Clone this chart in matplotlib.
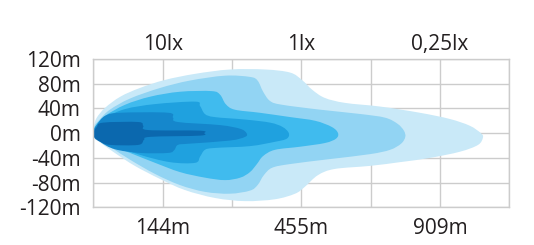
import matplotlib
matplotlib.use("Agg")
import numpy as np
import matplotlib.pyplot as plt
from matplotlib.path import Path
from matplotlib.patches import PathPatch

plt.rcParams['font.family'] = ['Open Sans', 'DejaVu Sans']

# x in grid columns (0..6), y in metres
y_ticks = [120, 80, 40, 0, -40, -80, -120]
y_labels = ["120m", "80m", "40m", "0m", "-40m", "-80m", "-120m"]
col_pos = [0, 1, 2, 3, 4, 5, 6]
dist_labels = ["", "144m", "", "455m", "", "909m", ""]
lux_labels = ["", "10lx", "", "1lx", "", "0,25lx", ""]

# isolux outlines, outer to inner (closed: upper edge then lower edge)
lux_025_x = [0, 0.01, 0.05, 0.17, 0.39, 0.67, 1.03, 1.47, 1.97, 2.48, 2.84, 3.01, 3.16, 3.34,
             3.63, 4.14, 4.71, 5.14, 5.43, 5.59, 5.62,
             5.55, 5.29, 4.86, 4.42, 3.99, 3.48, 3.24, 3.05, 2.91, 2.62, 2.19, 1.76, 1.32,
             0.96, 0.6, 0.31, 0.11, 0.01]
lux_025_y = [0, 12, 25, 41, 59, 73, 86, 96, 103, 103, 98, 86, 70, 57,
             49, 43, 33, 23, 12, 0, -7,
             -19, -30, -40, -47, -53, -58, -68, -87, -98, -107, -110, -105, -92,
             -74, -53, -32, -16, -8]

lux_05_x = [0, 0.02, 0.1, 0.24, 0.53, 0.96, 1.39, 1.9, 2.26, 2.37, 2.45, 2.55, 2.72, 3.27,
            3.85, 4.21, 4.39, 4.48, 4.5,
            4.44, 4.28, 3.99, 3.41, 2.84, 2.58, 2.46, 2.37, 2.26, 1.97, 1.61, 1.25, 0.89,
            0.53, 0.27, 0.07]
lux_05_y = [0, 12, 23, 38, 56, 73, 85, 93, 91, 85, 67, 52, 46, 38,
            31, 25, 15, 4, -6,
            -17, -27, -34, -42, -50, -56, -68, -84, -93, -98, -95, -84, -66,
            -43, -24, -9]

lux_1_x = [0, 0.04, 0.17, 0.46, 0.82, 1.25, 1.71, 1.83, 1.91, 2.04, 2.4, 2.84, 3.2, 3.44, 3.53,
           3.5, 3.34, 2.98, 2.62, 2.45, 2.36, 2.26, 2.12, 1.9, 1.61, 1.25, 0.89, 0.53,
           0.24, 0.05]
lux_1_y = [0, 13, 28, 46, 59, 67, 68, 62, 47, 38, 33, 26, 20, 10, 0,
           -9, -16, -22, -27, -37, -50, -63, -72, -76, -72, -63, -48, -32,
           -19, -7]

lux_3_x = [0, 0.04, 0.17, 0.46, 0.89, 1.47, 1.54, 1.61, 1.75, 2.19, 2.55, 2.73, 2.82,
           2.79, 2.62, 2.26, 1.75, 1.61, 1.54, 1.47, 1.11, 0.67, 0.31, 0.07]
lux_3_y = [0, 12, 25, 39, 47, 51, 44, 31, 26, 22, 17, 10, 0,
           -9, -14, -21, -24, -27, -38, -48, -47, -35, -20, -9]

lux_10_x = [0, 0.05, 0.17, 0.39, 1.08, 1.15, 1.22, 1.83, 2.12, 2.21,
            2.19, 1.97, 1.39, 1.22, 1.17, 1.08, 0.67, 0.31, 0.1]
lux_10_y = [0, 13, 28, 33, 33, 25, 18, 13, 7, 0,
            -6, -12, -17, -19, -27, -32, -32, -26, -14]

lux_30_x = [0, 0.05, 0.14, 0.65, 0.72, 0.79, 1.54, 1.6,
            1.54, 0.82, 0.73, 0.65, 0.24, 0.1, 0.02]
lux_30_y = [0, 10, 17, 18, 12, 5, 4, 0,
            -4, -6, -11, -19, -19, -14, -8]

zones = [
    (lux_025_x, lux_025_y, "#c9e9f8"),
    (lux_05_x, lux_05_y, "#92d4f3"),
    (lux_1_x, lux_1_y, "#40bbee"),
    (lux_3_x, lux_3_y, "#1fa1df"),
    (lux_10_x, lux_10_y, "#1587cc"),
    (lux_30_x, lux_30_y, "#0b68ae"),
]


def smooth_outline(xs, ys):
    # closed Catmull-Rom curve through the outline points, as bezier segments
    p = np.column_stack([xs, ys]).astype(float)
    n = len(p)
    verts = [p[0]]
    codes = [Path.MOVETO]
    for i in range(n):
        p0, p1, p2, p3 = p[i - 1], p[i], p[(i + 1) % n], p[(i + 2) % n]
        verts += [p1 + (p2 - p0) / 6, p2 - (p3 - p1) / 6, p2]
        codes += [Path.CURVE4] * 3
    verts.append(p[0])
    codes.append(Path.CLOSEPOLY)
    return Path(verts, codes)


fig = plt.figure(figsize=(5.34, 2.45), dpi=100)
ax = fig.add_axes([0.1747, 0.1539, 0.779, 0.6053])

for xs, ys, col in zones:
    ax.add_patch(PathPatch(smooth_outline(xs, ys), facecolor=col, lw=0, zorder=2))

ax.set_xlim(0, 6)
ax.set_ylim(-120, 120)
ax.set_xticks(col_pos)
ax.set_yticks(y_ticks)
ax.grid(True, color='#cccccc', lw=1, zorder=1)
ax.set_axisbelow(True)
for s in ax.spines.values():
    s.set_color('#cccccc')
    s.set_linewidth(1)

txt = '#231f20'
ax.set_xticklabels(dist_labels, fontsize=15, color=txt)
ax.set_yticklabels(y_labels, fontsize=15, color=txt)
ax.tick_params(axis='both', which='both', length=0)
ax.tick_params(axis='x', pad=8)
ax.tick_params(axis='y', pad=9)

top = ax.secondary_xaxis('top')
top.set_xticks(col_pos)
top.set_xticklabels(lux_labels, fontsize=15, color=txt)
top.tick_params(length=0, pad=3)
top.spines['top'].set_visible(False)

fig.savefig("out.png", dpi=100)
